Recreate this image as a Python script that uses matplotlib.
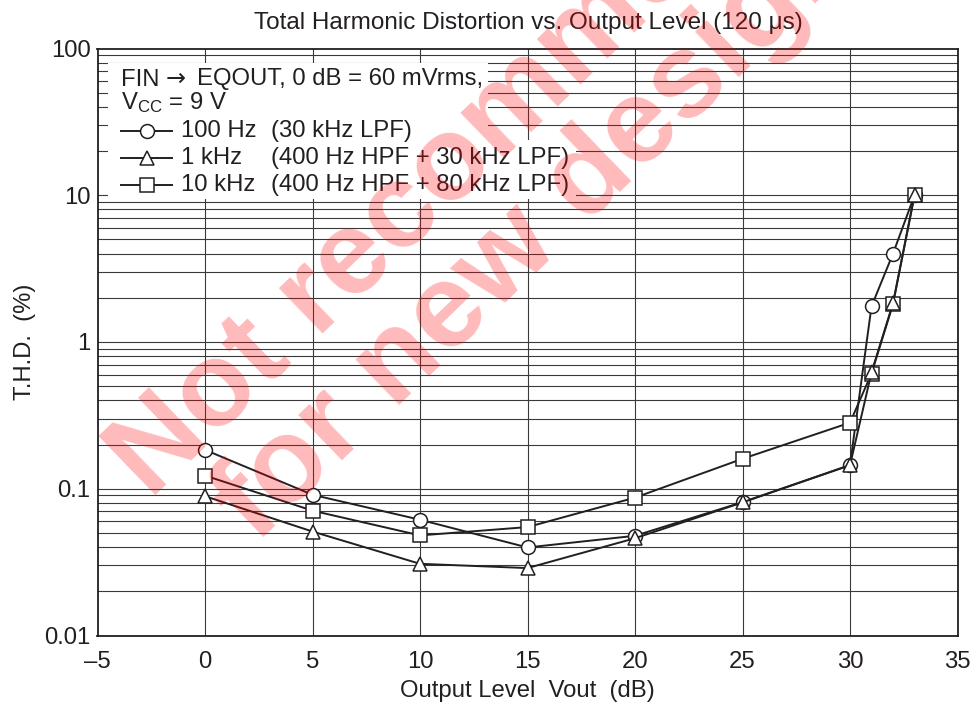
import numpy as np
import matplotlib
matplotlib.use("Agg")
import matplotlib.pyplot as plt
from matplotlib.lines import Line2D
from matplotlib.patches import Rectangle

plt.rcParams['font.family'] = ['Liberation Sans', 'DejaVu Sans']
plt.rcParams['mathtext.fontset'] = 'custom'
plt.rcParams['mathtext.rm'] = 'Liberation Sans'
plt.rcParams['mathtext.it'] = 'Liberation Sans'

INK = '#231f20'

# output level (dB)
level = [0, 5, 10, 15, 20, 25, 30, 31, 32, 33]

# T.H.D. (%)
thd_100hz = [0.184, 0.091, 0.0615, 0.0398, 0.0478, 0.081, 0.145, 1.75, 4.0, 10.0]
thd_1khz = [0.089, 0.0511, 0.0308, 0.0288, 0.046, 0.0807, 0.1446, 0.62, 1.84, 10.0]
thd_10khz = [0.123, 0.0709, 0.0481, 0.0548, 0.087, 0.160, 0.282, 0.61, 1.81, 10.0]

x_ticks = [-5, 0, 5, 10, 15, 20, 25, 30, 35]
y_ticks = [0.01, 0.1, 1, 10, 100]
y_tick_labels = ['0.01', '0.1', '1', '10', '100']

W, H = 976, 705
fig = plt.figure(figsize=(W / 100, H / 100), dpi=100)
ax = fig.add_axes([97.5 / W, 1 - 635.5 / H, 860 / W, 587 / H])


def fx(px):
    return px / W


def fy(py):
    # pixel row from the top -> figure fraction
    return 1 - py / H


ax.set_yscale('log')
ax.set_xlim(-5, 35)
ax.set_ylim(0.01, 100)

# grid: every decade subdivision horizontally, every 5 dB vertically
for dec in [0.01, 0.1, 1, 10]:
    for m in range(1, 10):
        ax.axhline(dec * m, color='#3a3a3a', lw=0.8, zorder=1)
for xv in x_ticks[1:-1]:
    ax.axvline(xv, color='#3a3a3a', lw=0.8, zorder=1)

style = dict(color=INK, lw=1.4, ms=10, mfc='white', mec=INK, mew=1.1, zorder=4)
ax.plot(level, thd_100hz, marker='o', **style)
ax.plot(level, thd_10khz, marker='s', **style)
ax.plot(level, thd_1khz, marker='^', **style)

fs = 17.2
ax.set_xticks(x_ticks)
ax.set_xticklabels([str(v).replace('-', '\u2013') for v in x_ticks])
ax.set_yticks(y_ticks)
ax.set_yticklabels(y_tick_labels)
ax.yaxis.set_minor_locator(matplotlib.ticker.NullLocator())
ax.tick_params(axis='both', length=0, labelsize=fs, colors=INK)
ax.tick_params(axis='x', pad=11)
ax.tick_params(axis='y', pad=5)
for sp in ax.spines.values():
    sp.set_color(INK)
    sp.set_linewidth(1.3)
    sp.set_zorder(5)

ax.set_xlabel('Output Level  Vout  (dB)', fontsize=fs, color=INK, labelpad=5)
ax.set_ylabel('T.H.D.  (%)', fontsize=fs, color=INK, labelpad=6)
fig.text(fx(528), fy(23), 'Total Harmonic Distortion vs. Output Level (120 \u03bcs)',
         ha='center', va='center', fontsize=17.5, color=INK)

# legend block
txt = dict(fontsize=fs, color=INK, zorder=7)
fig.text(fx(121), fy(85.5), 'FIN', va='baseline', **txt)
fig.text(fx(166), fy(85.5), '\u2192', va='baseline', family='DejaVu Sans', **txt)
rows1 = [
    fig.text(fx(197), fy(85.5), 'EQOUT, 0 dB = 60 mVrms,', va='baseline', **txt),
    fig.text(fx(121), fy(103), 'V$_{\\mathregular{CC}}$ = 9 V', va='center', **txt),
]
series_rows = [('o', '100 Hz', '(30 kHz LPF)', 131),
               ('^', '1 kHz', '(400 Hz HPF + 30 kHz LPF)', 158),
               ('s', '10 kHz', '(400 Hz HPF + 80 kHz LPF)', 185)]
row_texts = []
for mk, name, filt, yy in series_rows:
    fig.add_artist(Line2D([fx(121), fx(172)], [fy(yy), fy(yy)], color=INK, lw=1.4,
                          transform=fig.transFigure, zorder=7))
    fig.add_artist(Line2D([fx(147)], [fy(yy)], marker=mk, ms=10, mfc='white', mec=INK, mew=1.1,
                          ls='none', transform=fig.transFigure, zorder=8))
    fig.text(fx(181), fy(yy), name, va='center', **txt)
    row_texts.append(fig.text(fx(271), fy(yy), filt, va='center', **txt))

fig.canvas.draw()
rend = fig.canvas.get_renderer()
right1 = max(t.get_window_extent(rend).x1 for t in rows1 + row_texts[:1]) + 5
right2 = max(t.get_window_extent(rend).x1 for t in row_texts[1:]) + 7
fig.add_artist(Rectangle((fx(108), fy(140)), right1 / W - fx(108), fy(63) - fy(140),
                         transform=fig.transFigure, facecolor='white', edgecolor='none', zorder=6))
fig.add_artist(Rectangle((fx(108), fy(199)), right2 / W - fx(108), fy(140) - fy(199),
                         transform=fig.transFigure, facecolor='white', edgecolor='none', zorder=6))

# watermark
wm = dict(fontsize=86, fontweight='bold', color='red', alpha=0.27, rotation=44,
          rotation_mode='anchor', ha='left', va='baseline', zorder=20)
fig.text(fx(150), fy(500), 'Not recommended', **wm)
fig.text(fx(256), fy(544), 'for new designs', **wm)

fig.savefig('out.png', dpi=100, facecolor='white')
